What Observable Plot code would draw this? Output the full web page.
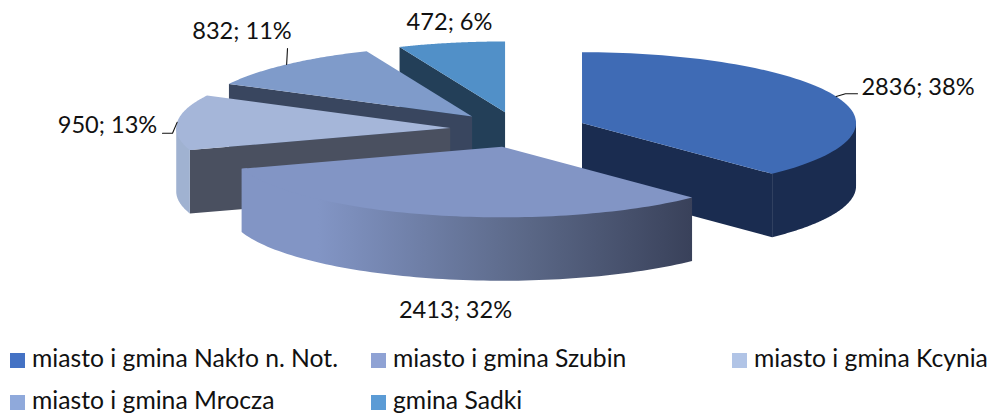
<!DOCTYPE html>
<html>
<head>
<meta charset="utf-8">
<script src="https://cdn.jsdelivr.net/npm/d3@7"></script>
<script src="https://cdn.jsdelivr.net/npm/@observablehq/plot@0.6"></script>
<style>
  html, body { margin: 0; padding: 0; background: #fff; }
  #chart svg { display: block; background: #fff; }
  #legend {
    display: grid; grid-template-columns: repeat(3, 361px); grid-auto-rows: 42px;
    padding-left: 10px; margin-top: -0.5px;
    font: 24.7px/1 Lato, sans-serif; color: #111;
  }
  #legend div { display: flex; align-items: center; white-space: nowrap; }
  #legend i { display: block; width: 15px; height: 15px; margin-right: 7px; flex: none; }
  #legend span { position: relative; top: -2.5px; }
</style>
</head>
<body>
<div id="chart"></div>
<div id="legend"></div>
<script>
// Data
const categories = ["miasto i gmina Nakło n. Not.", "miasto i gmina Szubin", "miasto i gmina Kcynia", "miasto i gmina Mrocza", "gmina Sadki"];
const values = [2836, 2413, 950, 832, 472];
const percents = [38, 32, 13, 11, 6];

// Style
const topColors = ["#3f6bb5", "#8295c5", "#a5b6d9", "#7f9bca", "#5190c8"];
const wallColors = ["#1a2c50", "url(#rimGrad)", "#4a5060", "#39465f", "#233f58"];
const rimColors = ["#1a2c50", "url(#rimGrad)", "#a0b2d1", "#39465f", "#233f58"];
const legendColors = ["#4472c4", "#8fa2d4", "#b1c4e6", "#8fa9db", "#5b9bd5"];

// Layout of the pseudo-3D pie
const W = 991, H = 340;
const cx = 518, cy = 129, rx = 274, ry = 70.7, depth = 63.4, explode = 0.25;
const labelCenters = [[917.5, 87], [455, 310], [107, 125], [241.5, 31], [449, 22]];
const leaderKnees = [[[845, 93.3], [857, 93.3]], null, [[172, 132.7], [162, 132.7]], [[287, 48]], null];

const total = d3.sum(values);
let acc = 0;
const slices = values.map((v, i) => {
  const a0 = acc / total * 2 * Math.PI;
  acc += v;
  const a1 = acc / total * 2 * Math.PI;
  const mid = (a0 + a1) / 2;
  return {i, a0, a1, mid, ax: cx + explode * rx * Math.sin(mid), ay: cy - explode * ry * Math.cos(mid)};
});
const rimPoint = (s, a) => ({x: s.ax + rx * Math.sin(a), y: s.ay - ry * Math.cos(a)});
const arc = (s, a0, a1) => d3.range(81).map(k => rimPoint(s, a0 + (a1 - a0) * k / 80));
const down = p => ({x: p.x, y: p.y + depth});
const poly = (pts, fill) => Plot.line(pts, {x: "x", y: "y", fill, stroke: null, curve: "linear"});

const marks = [
  () => {
    const ns = "http://www.w3.org/2000/svg";
    const defs = document.createElementNS(ns, "defs");
    const g = document.createElementNS(ns, "linearGradient");
    g.setAttribute("id", "rimGrad");
    [[0, "#8295c5"], [0.17, "#8295c5"], [0.64, "#5a6786"], [1, "#39415a"]].forEach(([o, c]) => {
      const st = document.createElementNS(ns, "stop");
      st.setAttribute("offset", o);
      st.setAttribute("stop-color", c);
      g.appendChild(st);
    });
    defs.appendChild(g);
    return defs;
  }
];

// Back to front
for (const i of [4, 3, 2, 0, 1]) {
  const s = slices[i];
  const apex = {x: s.ax, y: s.ay};
  if (Math.sin(s.a0) < -1e-6) {
    const t = rimPoint(s, s.a0);
    marks.push(poly([apex, t, down(t), down(apex)], wallColors[i]));
  }
  if (Math.sin(s.a1) > 1e-6) {
    const t = rimPoint(s, s.a1);
    marks.push(poly([apex, t, down(t), down(apex)], wallColors[i]));
  }
  const r0 = Math.max(s.a0, Math.PI / 2), r1 = Math.min(s.a1, 3 * Math.PI / 2);
  if (r1 > r0) {
    const top = arc(s, r0, r1);
    // the wall's upper edge runs a little under the top face, so no seam shows between them
    const under = top.map(p => ({x: p.x + (apex.x - p.x) * 0.02, y: p.y + (apex.y - p.y) * 0.02}));
    marks.push(poly([top[0], ...under, top[top.length - 1], ...top.slice().reverse().map(down)], rimColors[i]));
  }
  marks.push(poly([apex, ...arc(s, s.a0, s.a1)], topColors[i]));
}

// Leaders
slices.forEach((s, i) => {
  if (leaderKnees[i]) {
    const start = rimPoint(s, s.mid);
    marks.push(Plot.line([start, ...leaderKnees[i].map(([x, y]) => ({x, y}))],
      {x: "x", y: "y", stroke: "#111", strokeWidth: 1.1}));
  }
});

// Labels
const labels = values.map((v, i) => ({text: `${v}; ${percents[i]}%`, x: labelCenters[i][0], y: labelCenters[i][1]}));
marks.push(Plot.text(labels, {x: "x", y: "y", text: "text", fill: "#111", fontSize: 23.6, textAnchor: "middle", fontFamily: "Lato, sans-serif"}));

document.getElementById("chart").append(Plot.plot({
  width: W, height: H, margin: 0,
  x: {domain: [0, W], range: [0, W], axis: null},
  y: {domain: [0, H], range: [0, H], axis: null},
  marks
}));

const legend = document.getElementById("legend");
categories.forEach((c, i) => {
  const d = document.createElement("div");
  const sw = document.createElement("i");
  sw.style.background = legendColors[i];
  const t = document.createElement("span");
  t.textContent = c;
  d.append(sw, t);
  legend.append(d);
});
</script>
</body>
</html>
